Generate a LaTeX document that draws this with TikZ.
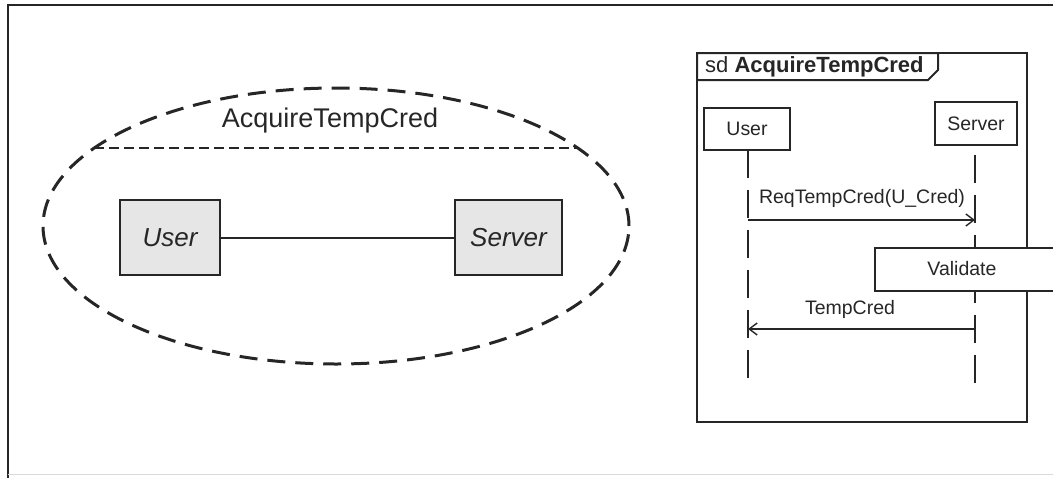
\documentclass[tikz,border=0pt]{standalone}
\usepackage{fontspec}
\setmainfont{Liberation Sans}
\usetikzlibrary{shapes.geometric,arrows.meta}

\definecolor{ink}{HTML}{262626}
\definecolor{boxfill}{HTML}{E6E6E6}

\tikzset{
  ucbox/.style={draw=ink, line width=2pt, fill=boxfill, inner sep=0pt,
                minimum width=#1, minimum height=75pt,
                font=\fontsize{26}{30}\selectfont\itshape, text=ink},
  lifebox/.style={draw=ink, line width=1.6pt, fill=white, inner sep=0pt,
                  font=\fontsize{19.5}{23}\selectfont, text=ink},
  lifeline/.style={draw=ink, line width=1.6pt, dash pattern=on 28pt off 12pt},
  msg/.style={draw=ink, line width=1.6pt, -{Straight Barb[length=8pt,width=12pt,line width=1.4pt]}},
  msglabel/.style={font=\fontsize{19.5}{23}\selectfont, text=ink, inner sep=0pt}
}

\begin{document}
\begin{tikzpicture}[x=1pt,y=-1pt]
  \useasboundingbox (0,0) rectangle (1053,477);

  % page frame
  \draw[ink, line width=2pt] (1060,5) -- (8,5) -- (8,480);
  \draw[gray!30, line width=1pt] (8,474) -- (1060,474);

  % ---- use case collaboration ----
  \node[ellipse, draw=ink, line width=3pt, dash pattern=on 18pt off 10pt,
        minimum width=586pt, minimum height=276pt, inner sep=0pt] (uc) at (336,226) {};
  \coordinate (sepL) at (94,148);
  \coordinate (sepR) at (578,148);
  \draw[ink, line width=2pt, dash pattern=on 10pt off 5pt] (sepL) -- (sepR);
  \node[font=\fontsize{27}{32}\selectfont, text=ink, inner sep=0pt] (ucname) at (330,121) {AcquireTempCred};

  \node[ucbox=100pt] (user) at (170,237.5) {User};
  \node[ucbox=107pt] (server) at (508.5,237.5) {Server};
  \draw[ink, line width=2pt] (user.east) -- (server.west);

  % ---- sequence diagram ----
  \node[draw=ink, line width=2pt, minimum width=330pt, minimum height=369pt,
        inner sep=0pt] (sd) at (862,237.5) {};
  \draw[ink, line width=2pt, fill=white] (697,53) -- (938,53) -- (938,70) -- (928,80) -- (697,80) -- cycle;
  \node[anchor=west, font=\fontsize{22}{26}\selectfont, text=ink, inner sep=0pt] (sdname)
        at (705,66.5) {sd \textbf{AcquireTempCred}};

  \node[lifebox, minimum width=86pt, minimum height=42pt] (luser) at (747,129) {User};
  \node[lifebox, minimum width=82pt, minimum height=43pt] (lserver) at (976,123.5) {Server};

  \coordinate (uEnd) at (748,386);
  \coordinate (sEnd) at (975,386);
  \coordinate (sTop) at (975,155);
  \draw[lifeline] (748,150) -- (uEnd);
  \draw[lifeline] (sTop) -- (sEnd);

  \coordinate (m1a) at (748,220);
  \coordinate (m1b) at (975,220);
  \draw[msg] (m1a) -- (m1b);
  \node[msglabel] (m1) at (862,198) {ReqTempCred(U\_Cred)};

  \node[lifebox, minimum width=180pt, minimum height=43pt, anchor=north west] (validate) at (874,247) {};
  \node[msglabel] (vtext) at (962,268.5) {Validate};

  \coordinate (m2a) at (975,329);
  \coordinate (m2b) at (748,329);
  \draw[msg] (m2a) -- (m2b);
  \node[msglabel] (m2) at (850,309) {TempCred};
\end{tikzpicture}
\end{document}
